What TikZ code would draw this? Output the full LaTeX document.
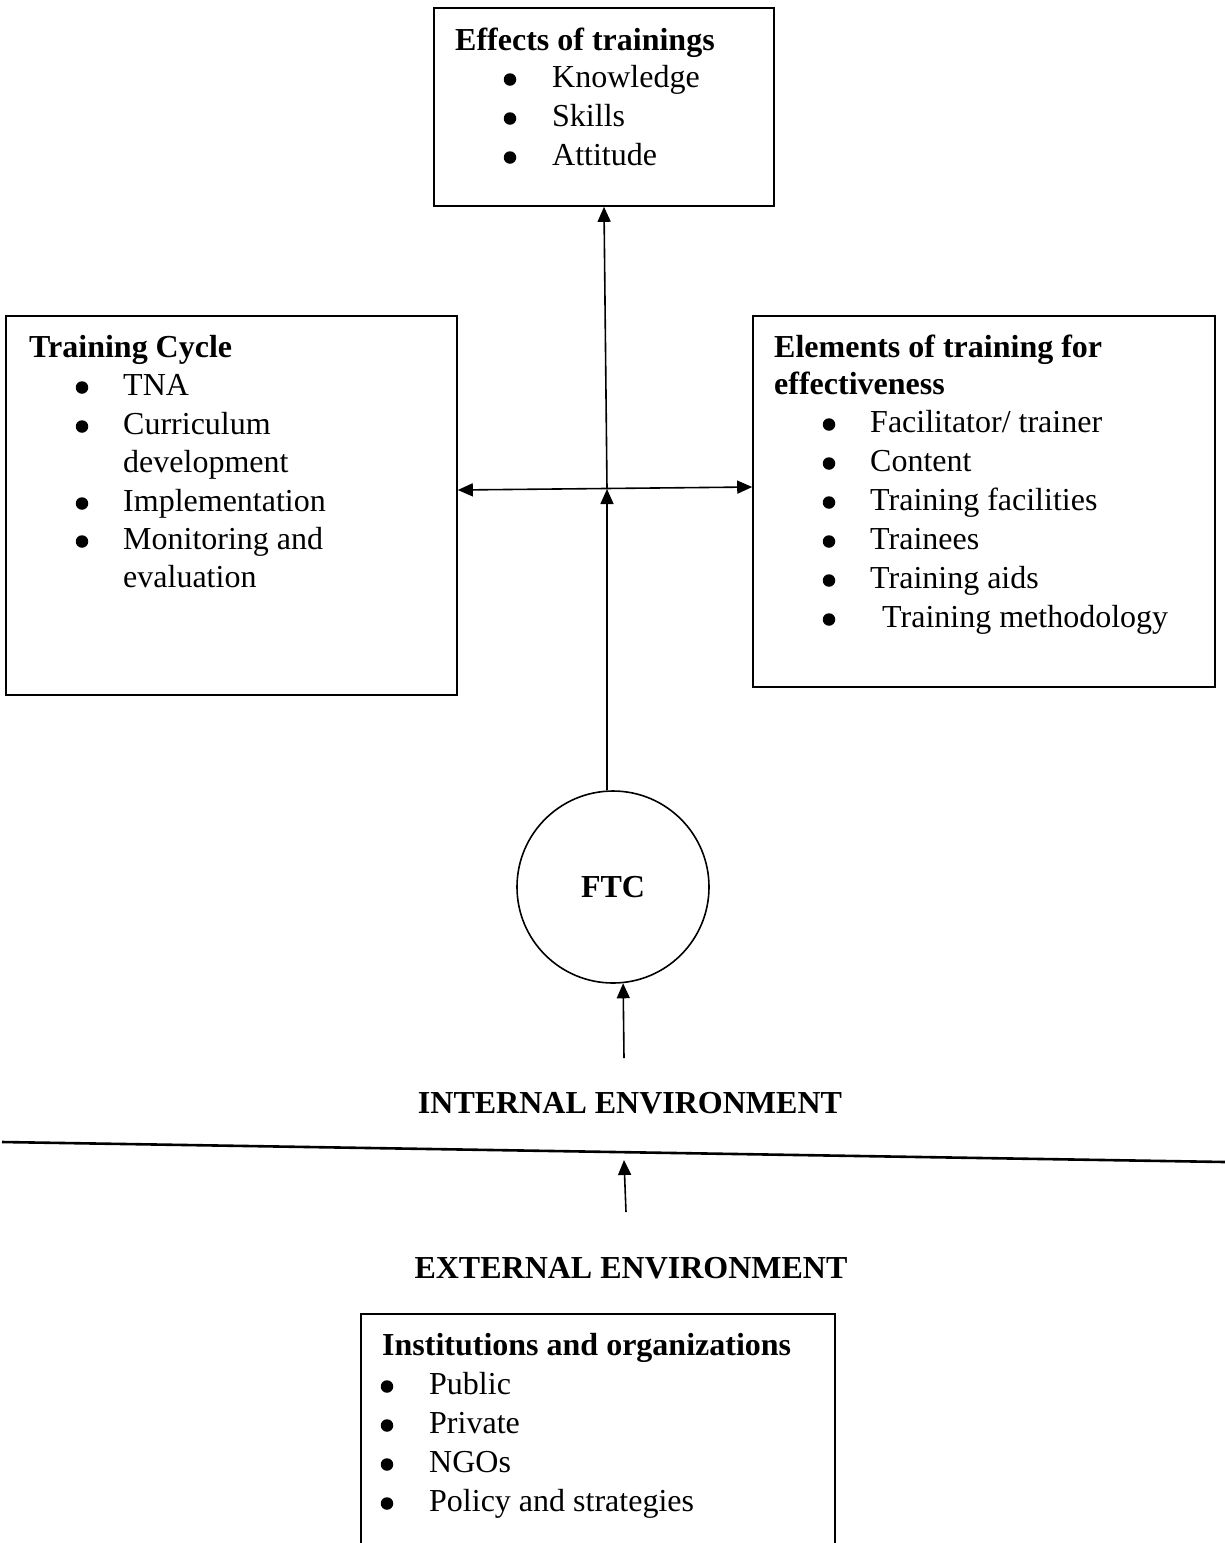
\documentclass[tikz,border=0pt]{standalone}
\usepackage{fontspec}
\setmainfont{Liberation Serif}
\usetikzlibrary{arrows.meta}
\begin{document}
\begin{tikzpicture}[x=1pt,y=-1pt,
  box/.style={draw, line width=1.6pt, rectangle, inner sep=0pt},
  ttl/.style={anchor=base west, inner sep=0pt, font=\fontsize{32}{38}\selectfont\bfseries},
  itm/.style={anchor=base west, inner sep=0pt, font=\fontsize{32}{38}\selectfont},
  bul/.style={circle, fill=black, inner sep=0pt, minimum size=12.5pt},
  lbl/.style={anchor=center, inner sep=0pt, font=\fontsize{32}{38}\selectfont\bfseries},
  arr/.style={line width=1.6pt, -{Triangle[length=15pt,width=13pt]}},
  darr/.style={line width=1.6pt, {Triangle[length=15pt,width=13pt]}-{Triangle[length=15pt,width=13pt]}}]
\useasboundingbox (0,0) rectangle (1225,1543);
\fill[white] (0,0) rectangle (1225,1543);

% Effects box
\node[box, minimum width=340pt, minimum height=198pt] (eff) at (604,107) {};
\node[ttl] (efft) at (455,50) {Effects of trainings};
\node[bul] (e1b) at (510,79.5) {}; \node[itm] (e1) at (552,87) {Knowledge};
\node[bul] (e2b) at (510,118.5) {}; \node[itm] (e2) at (552,126) {Skills};
\node[bul] (e3b) at (510,157.5) {}; \node[itm] (e3) at (552,165) {Attitude};

% Training cycle box
\node[box, minimum width=451pt, minimum height=379pt] (tc) at (231.5,505.5) {};
\node[ttl] (tct) at (29,357) {Training Cycle};
\node[bul] (t1b) at (82,387.5) {}; \node[itm] (t1) at (123,395) {TNA};
\node[bul] (t2b) at (82,426.5) {}; \node[itm] (t2) at (123,434) {Curriculum};
\node[itm] (t2c) at (123,472) {development};
\node[bul] (t3b) at (82,503.5) {}; \node[itm] (t3) at (123,511) {Implementation};
\node[bul] (t4b) at (82,541.5) {}; \node[itm] (t4) at (123,549) {Monitoring and};
\node[itm] (t4c) at (123,587) {evaluation};

% Elements box
\node[box, minimum width=462pt, minimum height=371pt] (el) at (984,501.5) {};
\node[ttl] (elt) at (774,357) {Elements of training for};
\node[ttl] (elt2) at (774,394) {effectiveness};
\node[bul] (l1b) at (829,424.5) {}; \node[itm] (l1) at (870,432) {Facilitator/ trainer};
\node[bul] (l2b) at (829,463.5) {}; \node[itm] (l2) at (870,471) {Content};
\node[bul] (l3b) at (829,502.5) {}; \node[itm] (l3) at (870,510) {Training facilities};
\node[bul] (l4b) at (829,541.5) {}; \node[itm] (l4) at (870,549) {Trainees};
\node[bul] (l5b) at (829,580.5) {}; \node[itm] (l5) at (870,588) {Training aids};
\node[bul] (l6b) at (829,619.5) {}; \node[itm] (l6) at (882,627) {Training methodology};

% FTC circle
\node[draw, circle, line width=1.6pt, minimum size=192pt, inner sep=0pt] (ftc) at (613,887) {};
\node[lbl] (ftct) at (613,887) {FTC};

% Environment labels
\node[lbl] (int) at (630,1103) {INTERNAL ENVIRONMENT};
\node[lbl] (ext) at (631,1268) {EXTERNAL ENVIRONMENT};

% Divider line
\coordinate (dl) at (2,1142);
\coordinate (dr) at (1225,1162);
\draw[line width=2.6pt] (dl) -- (dr);

% Institutions box (open at the bottom, runs off the page)
\node[box, minimum width=474pt, minimum height=290pt] (inst) at (598,1459) {};
\node[ttl] (instt) at (382,1355) {Institutions and organizations};
\node[bul] (i1b) at (387,1386.5) {}; \node[itm] (i1) at (429,1394) {Public};
\node[bul] (i2b) at (387,1425.5) {}; \node[itm] (i2) at (429,1433) {Private};
\node[bul] (i3b) at (387,1464.5) {}; \node[itm] (i3) at (429,1472) {NGOs};
\node[bul] (i4b) at (387,1503.5) {}; \node[itm] (i4) at (429,1511) {Policy and strategies};

% Connectors
\coordinate (hy1) at (0,490);
\coordinate (hy2) at (0,487);
\coordinate (J) at (607,489);
\draw[darr] (tc.east |- hy1) -- (el.west |- hy2);
\draw[arr] (ftc.north -| J) -- (J);
\draw[arr] (J) -- (eff.south);
\coordinate (a1) at (624,1058);
\draw[arr] (a1) -- (ftc.-84);
\coordinate (a2s) at (626,1212);
\coordinate (a2e) at (624,1160);
\draw[arr] (a2s) -- (a2e);
\end{tikzpicture}
\end{document}
